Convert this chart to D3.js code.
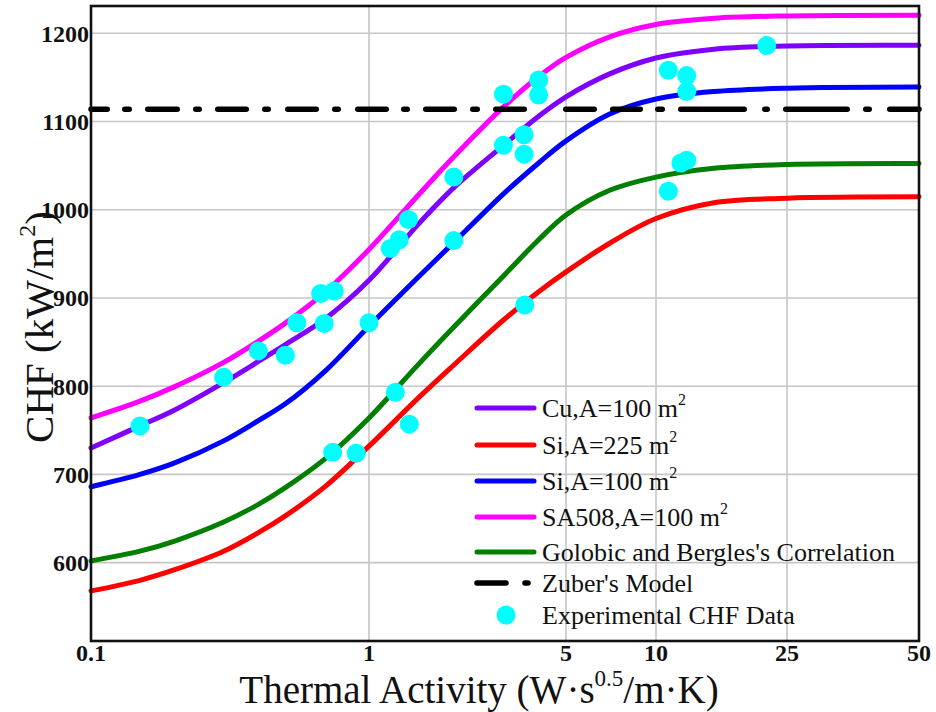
<!DOCTYPE html>
<html>
<head>
<meta charset="utf-8">
<script src="https://cdn.jsdelivr.net/npm/d3@7"></script>
<style>
  html, body { margin: 0; padding: 0; background: #fff; }
  svg { display: block; }
  text { font-family: "Liberation Serif", "Times New Roman", serif; }
</style>
</head>
<body>
<svg id="chart" width="936" height="712"></svg>
<script>
// ---------------- data ----------------
const xTicks = [0.1, 1, 5, 10, 25, 50];
const xTickLabels = ["0.1", "1", "5", "10", "25", "50"];
const yTicks = [600, 700, 800, 900, 1000, 1100, 1200];

// thermal activity sample points for the model curves
const activity   = [0.1, 0.15, 0.2, 0.3, 0.4, 0.5, 0.7, 1, 1.5, 2, 3, 4, 5, 7, 10, 15, 25, 50];
const chfCu      = [730, 755, 773, 804, 828, 847, 877, 920, 984, 1025, 1073, 1106, 1128, 1154, 1172, 1182, 1185.6, 1186.4];
const chfSi225   = [568, 580, 592, 613, 634, 653, 687, 732, 787, 824, 875, 907, 929.5, 962, 990, 1008, 1013, 1014.6];
const chfSi100   = [686, 700, 713, 738, 761, 780, 818, 868, 924, 963, 1018, 1053, 1078, 1108.5, 1125.5, 1134, 1137.7, 1139];
const chfSA508   = [764, 783, 799.5, 827, 851, 871.5, 907.5, 955, 1017, 1060, 1116.5, 1151, 1172.6, 1196, 1210, 1217, 1219.7, 1220.5];
const chfGolobic = [602, 613, 624.5, 646, 666, 685, 718.5, 764, 825, 867, 925, 966, 994, 1022, 1037, 1047, 1051.3, 1052.4];
const zuberCHF = 1114;

// experimental CHF data
const expActivity = [0.15, 0.30, 0.40, 0.50, 0.55, 0.67, 0.75, 0.69, 1.0, 1.19, 1.28, 1.38, 2.0, 2.0, 3.0, 3.0,
                     3.55, 3.55, 4.0, 4.0, 10.9, 12.4, 12.4, 21.7, 11.9, 12.4, 10.9, 0.74, 0.9, 1.24, 1.39, 3.57];
const expCHF = [755, 810, 840, 835, 872, 905, 908, 871, 872, 956, 966, 989, 965, 1037, 1131, 1073,
                1085, 1063, 1147, 1130, 1158, 1152, 1134, 1186, 1053, 1056, 1021, 725, 724, 793, 757, 892];

const seriesNames = ["Cu,A=100 m", "Si,A=225 m", "Si,A=100 m", "SA508,A=100 m", "Golobic and Bergles's Correlation"];
const seriesSup   = ["2", "2", "2", "2", ""];
const seriesValues = [chfCu, chfSi225, chfSi100, chfSA508, chfGolobic];
const seriesColors = ["#7f00ff", "#ff0000", "#0000ff", "#ff00ff", "#007f00"];

// ---------------- layout ----------------
const svg = d3.select("#chart");
const L = 91, R = 919, T = 6, B = 641;

const x = d3.scaleLog()
  .domain(xTicks)
  .range([L, 369, 566, 656, 787, R]);
const y = d3.scaleLinear().domain([511.2, 1230.9]).range([B, T]);

// grid
const grid = svg.append("g");
grid.selectAll("line.h").data(yTicks).enter().append("line")
  .attr("x1", L).attr("x2", R)
  .attr("y1", d => y(d)).attr("y2", d => y(d))
  .attr("stroke", "#c6c6c6").attr("stroke-width", 1.6);
grid.selectAll("line.v").data(xTicks.slice(1, -1)).enter().append("line")
  .attr("x1", d => x(d)).attr("x2", d => x(d))
  .attr("y1", T).attr("y2", B)
  .attr("stroke", "#c6c6c6").attr("stroke-width", 1.6);

// curves
const line = d3.line()
  .x((d, i) => x(activity[i]))
  .y(d => y(d))
  .curve(d3.curveCatmullRom.alpha(0.5));

const order = [4, 1, 2, 0, 3];
order.forEach(k => {
  svg.append("path")
    .attr("d", line(seriesValues[k]))
    .attr("fill", "none")
    .attr("stroke", seriesColors[k])
    .attr("stroke-width", 5)
    .attr("stroke-linecap", "round");
});

// Zuber's model (dash-dot style as in the original figure)
const zuberDash = "16.25 17.5 4.5 18.5 29.5 18.5 3.5 18.5 28.5 18.5 3.5 19.5 28.5 18.5 3.5 19.5 28.5 17.5 3.5 " +
                  "18.5 28.5 18.5 4.5 18.5 28.5 41.5 28.5 18.5 27.5 17.5 4.5 18.5 63.5 20.5 2.5 18.5 61.5 " +
                  "18.5 3.5 20.5 60";
svg.append("line")
  .attr("x1", x(xTicks[0])).attr("x2", x(xTicks[xTicks.length - 1]))
  .attr("y1", y(zuberCHF)).attr("y2", y(zuberCHF))
  .attr("stroke", "#000").attr("stroke-width", 5.5)
  .attr("stroke-linecap", "round")
  .attr("stroke-dasharray", zuberDash);

// experimental points
svg.append("g").selectAll("circle").data(expCHF).enter().append("circle")
  .attr("cx", (d, i) => x(expActivity[i]))
  .attr("cy", d => y(d))
  .attr("r", 9.5)
  .attr("fill", "#00ffff");

// frame
svg.append("rect")
  .attr("x", L).attr("y", T).attr("width", R - L).attr("height", B - T)
  .attr("fill", "none").attr("stroke", "#111").attr("stroke-width", 2.6);

// tick labels
svg.append("g").selectAll("text").data(yTicks).enter().append("text")
  .attr("x", L - 2).attr("y", d => y(d) + 8.5)
  .attr("text-anchor", "end")
  .attr("font-size", 24).attr("font-weight", "bold")
  .attr("fill", "#111")
  .text(d => d);

svg.append("g").selectAll("text").data(xTicks).enter().append("text")
  .attr("x", d => x(d)).attr("y", 661)
  .attr("text-anchor", "middle")
  .attr("font-size", 24).attr("font-weight", "bold")
  .attr("fill", "#111")
  .text((d, i) => xTickLabels[i]);

// axis titles
const xt = svg.append("text")
  .attr("x", 479).attr("y", 703)
  .attr("text-anchor", "middle")
  .attr("font-size", 39).attr("fill", "#111");
xt.append("tspan").text("Thermal Activity (W\u00b7s");
xt.append("tspan").attr("font-size", 23).attr("dy", -17).text("0.5");
xt.append("tspan").attr("dy", 17).text("/m\u00b7K)");

const yt = svg.append("text")
  .attr("transform", "translate(53,327) rotate(-90)")
  .attr("text-anchor", "middle")
  .attr("font-size", 41).attr("fill", "#111");
yt.append("tspan").text("CHF (kW/m");
yt.append("tspan").attr("font-size", 24).attr("dy", -18).text("2");
yt.append("tspan").attr("dy", 18).text(")");

// legend
const legendY = [408, 445, 481, 517, 552, 583, 615];
const lg = svg.append("g");
seriesNames.forEach((name, i) => {
  lg.append("line")
    .attr("x1", 477).attr("x2", 534)
    .attr("y1", legendY[i]).attr("y2", legendY[i])
    .attr("stroke", seriesColors[i]).attr("stroke-width", 5)
    .attr("stroke-linecap", "round");
  const t = lg.append("text")
    .attr("x", 542).attr("y", legendY[i] + 9)
    .attr("font-size", 26).attr("fill", "#111");
  t.append("tspan").text(name);
  if (seriesSup[i]) t.append("tspan").attr("font-size", 16).attr("dy", -12).text(seriesSup[i]);
});
lg.append("line")
  .attr("x1", 477).attr("x2", 534)
  .attr("y1", legendY[5]).attr("y2", legendY[5])
  .attr("stroke", "#000").attr("stroke-width", 5.5)
  .attr("stroke-linecap", "round")
  .attr("stroke-dasharray", "29 19 3 19");
lg.append("text")
  .attr("x", 542).attr("y", legendY[5] + 9)
  .attr("font-size", 26).attr("fill", "#111")
  .text("Zuber's Model");
lg.append("circle")
  .attr("cx", 506).attr("cy", legendY[6]).attr("r", 9.5)
  .attr("fill", "#00ffff");
lg.append("text")
  .attr("x", 542).attr("y", legendY[6] + 9)
  .attr("font-size", 26).attr("fill", "#111")
  .text("Experimental CHF Data");
</script>
</body>
</html>
